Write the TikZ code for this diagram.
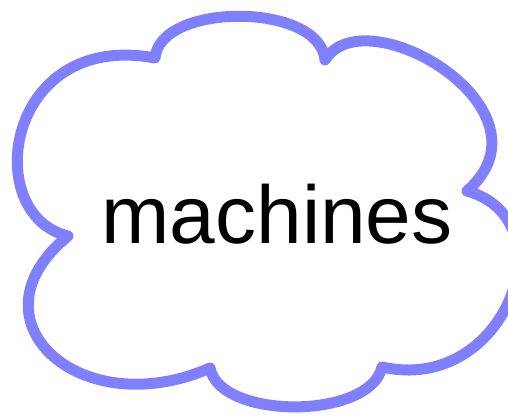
\documentclass[tikz,border=0pt]{standalone}
\usepackage{fontspec}
\setmainfont{Liberation Sans}
\usetikzlibrary{positioning}

\begin{document}
\begin{tikzpicture}[x=1pt,y=-1pt,
                    cloud line/.style={draw=blue!50,line width=11pt,line join=round,fill=white},
                    word/.style={font=\fontsize{82}{90}\selectfont,inner sep=0pt,anchor=base}]
  \useasboundingbox (0,0) rectangle (508,417);
  \clip (0,0) rectangle (508,417);

  \path[cloud line] (155,58)
        .. controls (160,2)   and (320,2)   .. (325,60)
        .. controls (365,-5)  and (560,110) .. (467,191)
        .. controls (570,220) and (505,395) .. (382,367)
        .. controls (370,420) and (220,420) .. (210,368)
        .. controls (80,425)  and (-35,320) .. (68,236)
        .. controls (-20,215) and (5,30)    .. cycle;

  \node[word] (label) at (277,243) {machines};
\end{tikzpicture}
\end{document}
